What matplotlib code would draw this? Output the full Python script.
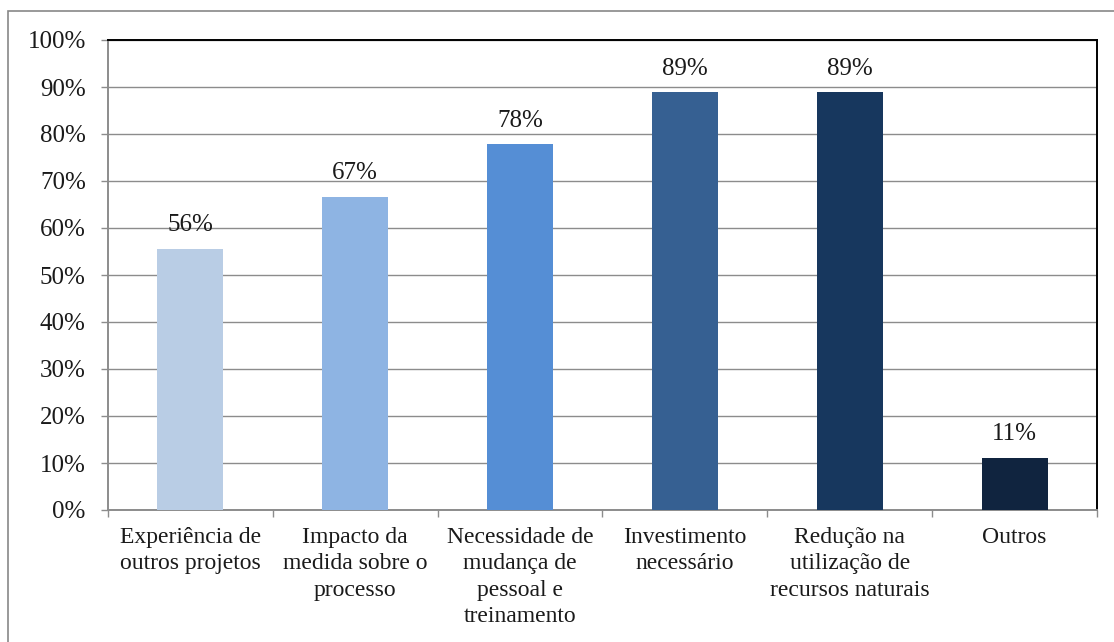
import matplotlib

matplotlib.use("Agg")
import matplotlib.pyplot as plt
from matplotlib.patches import Rectangle
from matplotlib.ticker import FixedLocator, PercentFormatter
import numpy as np

categories = [
    "Experiência de\noutros projetos",
    "Impacto da\nmedida sobre o\nprocesso",
    "Necessidade de\nmudança de\npessoal e\ntreinamento",
    "Investimento\nnecessário",
    "Redução na\nutilização de\nrecursos naturais",
    "Outros",
]
values = [0.556, 0.667, 0.778, 0.889, 0.889, 0.111]
value_labels = ["56%", "67%", "78%", "89%", "89%", "11%"]
bar_colors = ["#B9CDE5", "#8EB4E3", "#558ED5", "#366092", "#17375E", "#10243F"]

plt.rcParams["font.family"] = ["Liberation Serif", "DejaVu Serif"]

fig = plt.figure(figsize=(11.14, 6.42), dpi=100)
# outer chart frame
fig.patches.append(Rectangle((8 / 1114, -0.01), 1.1, 1 - 11 / 642 + 0.01, transform=fig.transFigure,
                             fill=False, edgecolor="#878787", linewidth=1.2))

ax = fig.add_axes([108 / 1114, 1 - 510 / 642, 989 / 1114, 470 / 642])
x = np.arange(len(categories))
ax.bar(x, values, width=0.4, color=bar_colors, zorder=3)

for xi, v, lab in zip(x, values, value_labels):
    ax.annotate(lab, (xi, v), xytext=(0, 9), textcoords="offset points",
                ha="center", va="bottom", fontsize=18, color="#1a1a1a")

ax.set_xlim(-0.5, len(categories) - 0.5)
ax.set_ylim(0, 1)
ax.yaxis.set_major_locator(FixedLocator(np.arange(0, 1.01, 0.1)))
ax.yaxis.set_major_formatter(PercentFormatter(1.0, decimals=0))
ax.grid(axis="y", color="#8c8c8c", linewidth=1.0, zorder=0)

ax.set_xticks(x)
ax.set_xticklabels(categories, fontsize=17, linespacing=1.35, color="#1a1a1a")
ax.xaxis.set_minor_locator(FixedLocator(np.arange(-0.5, len(categories), 1.0)))
ax.tick_params(axis="x", which="major", length=0, pad=12)
ax.tick_params(axis="x", which="minor", length=5, color="#8c8c8c", width=1.0)
ax.tick_params(axis="y", length=5, color="#8c8c8c", width=1.0, labelsize=18, pad=11,
               labelcolor="#1a1a1a")

for side in ("left", "bottom"):
    ax.spines[side].set_color("#8c8c8c")
    ax.spines[side].set_linewidth(1.4)
for side in ("top", "right"):
    ax.spines[side].set_color("black")
    ax.spines[side].set_linewidth(1.4)

fig.savefig("out.png", dpi=100, facecolor="white")
